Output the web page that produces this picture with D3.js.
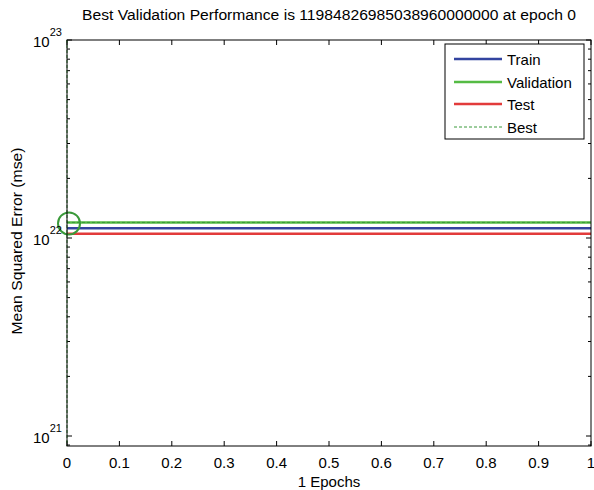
<!DOCTYPE html>
<html><head><meta charset="utf-8">
<script src="https://cdn.jsdelivr.net/npm/d3@7/dist/d3.min.js"></script>
<style>body{margin:0;background:#fff}svg{display:block}text{font-family:"Liberation Sans",Arial,sans-serif;fill:#000}</style>
</head><body><svg id="c" width="594" height="490"></svg>
<script>
const epochs = [0, 1];
const trainPerf = [1.12e22, 1.12e22];
const valPerf = [1.1984826985038960e22, 1.1984826985038960e22];
const testPerf = [1.05e22, 1.05e22];
const bestEpoch = 0;
const bestValue = 1.1984826985038960e22;
const xTicks = [0,0.1,0.2,0.3,0.4,0.5,0.6,0.7,0.8,0.9,1];
const xTickLabels = ["0","0.1","0.2","0.3","0.4","0.5","0.6","0.7","0.8","0.9","1"];
const yTicks = [1e21, 1e22, 1e23];
const yTickExps = ["21","22","23"];
const titleText = "Best Validation Performance is 11984826985038960000000 at epoch 0";
const xLabel = "1 Epochs";
const yLabel = "Mean Squared Error  (mse)";
const legendNames = ["Train","Validation","Test","Best"];

const colors = {train:"#3344a0", val:"#55bb44", test:"#e23b3b", best:"#3a9a3a"};
const L=67, R=591, T=40, B=446;
const svg = d3.select("#c");
const x = d3.scaleLinear().domain([0,1]).range([L,R]);
const yMin = Math.pow(10, 21 - 10/198);
const y = d3.scaleLog().domain([yMin, 1e23]).range([B,T]);

const minor = [];
for (let d=20; d<23; d++) for (let m=2; m<10; m++) { const v=m*Math.pow(10,d); if (v>=yMin && v<=1e23) minor.push(v); }

const g = svg.append("g");
xTicks.forEach(t=>{
  g.append("line").attr("x1",x(t)).attr("x2",x(t)).attr("y1",B).attr("y2",B-5).attr("stroke","#000");
  g.append("line").attr("x1",x(t)).attr("x2",x(t)).attr("y1",T).attr("y2",T+5).attr("stroke","#000");
});
yTicks.forEach(t=>{
  g.append("line").attr("x1",L).attr("x2",L+5).attr("y1",y(t)).attr("y2",y(t)).attr("stroke","#000");
  g.append("line").attr("x1",R).attr("x2",R-5).attr("y1",y(t)).attr("y2",y(t)).attr("stroke","#000");
});
minor.forEach(t=>{
  g.append("line").attr("x1",L).attr("x2",L+3).attr("y1",y(t)).attr("y2",y(t)).attr("stroke","#000");
  g.append("line").attr("x1",R).attr("x2",R-3).attr("y1",y(t)).attr("y2",y(t)).attr("stroke","#000");
});

const line = d3.line().x((d,i)=>x(epochs[i])).y(d=>y(d));
g.append("path").attr("d",line(trainPerf)).attr("fill","none").attr("stroke",colors.train).attr("stroke-width",2.5);
g.append("path").attr("d",line(valPerf)).attr("fill","none").attr("stroke",colors.val).attr("stroke-width",2.5);
g.append("path").attr("d",line(testPerf)).attr("fill","none").attr("stroke",colors.test).attr("stroke-width",2.5);
g.append("line").attr("x1",x(bestEpoch)).attr("x2",x(bestEpoch)).attr("y1",T).attr("y2",B)
  .attr("stroke",colors.best).attr("stroke-width",1).attr("stroke-dasharray","3,2");
g.append("line").attr("x1",L).attr("x2",R).attr("y1",y(bestValue)).attr("y2",y(bestValue))
  .attr("stroke",colors.best).attr("stroke-width",1).attr("stroke-dasharray","3,2");
g.append("circle").attr("cx",x(bestEpoch)+2).attr("cy",y(bestValue)+1).attr("r",11)
  .attr("fill","none").attr("stroke",colors.best).attr("stroke-width",2);

g.append("rect").attr("x",L).attr("y",T).attr("width",R-L).attr("height",B-T).attr("fill","none").attr("stroke","#000");

xTicks.forEach((t,i)=>{
  g.append("text").attr("x",x(t)).attr("y",468).attr("text-anchor","middle").attr("font-size",15).text(xTickLabels[i]);
});
yTicks.forEach((t,i)=>{
  const tx = g.append("text").attr("x",33).attr("y",y(t)+7).attr("font-size",15);
  tx.append("tspan").text("10");
  tx.append("tspan").attr("dy",-11).attr("font-size",11).text(yTickExps[i]);
});

svg.append("text").attr("x",(L+R)/2).attr("y",20).attr("text-anchor","middle").attr("font-size",14)
  .attr("textLength",494).attr("lengthAdjust","spacingAndGlyphs").text(titleText);
svg.append("text").attr("x",(L+R)/2).attr("y",487).attr("text-anchor","middle").attr("font-size",15).text(xLabel);
svg.append("text").attr("transform",`translate(22,241) rotate(-90)`).attr("text-anchor","middle").attr("font-size",15)
  .attr("textLength",187).attr("lengthAdjust","spacingAndGlyphs").text(yLabel);

const lg = svg.append("g");
lg.append("rect").attr("x",445).attr("y",44).attr("width",139).attr("height",95).attr("fill","#fff").attr("stroke","#000");
const lcols=[colors.train,colors.val,colors.test,colors.best];
const rows=[59,82,104,127];
legendNames.forEach((n,i)=>{
  const l = lg.append("line").attr("x1",454).attr("x2",502).attr("y1",rows[i]).attr("y2",rows[i]).attr("stroke",lcols[i]);
  if (i<3) l.attr("stroke-width",2.5); else l.attr("stroke-width",1).attr("stroke-dasharray","3,2");
  lg.append("text").attr("x",507).attr("y",rows[i]+6).attr("font-size",15).text(n);
});
</script></body></html>
